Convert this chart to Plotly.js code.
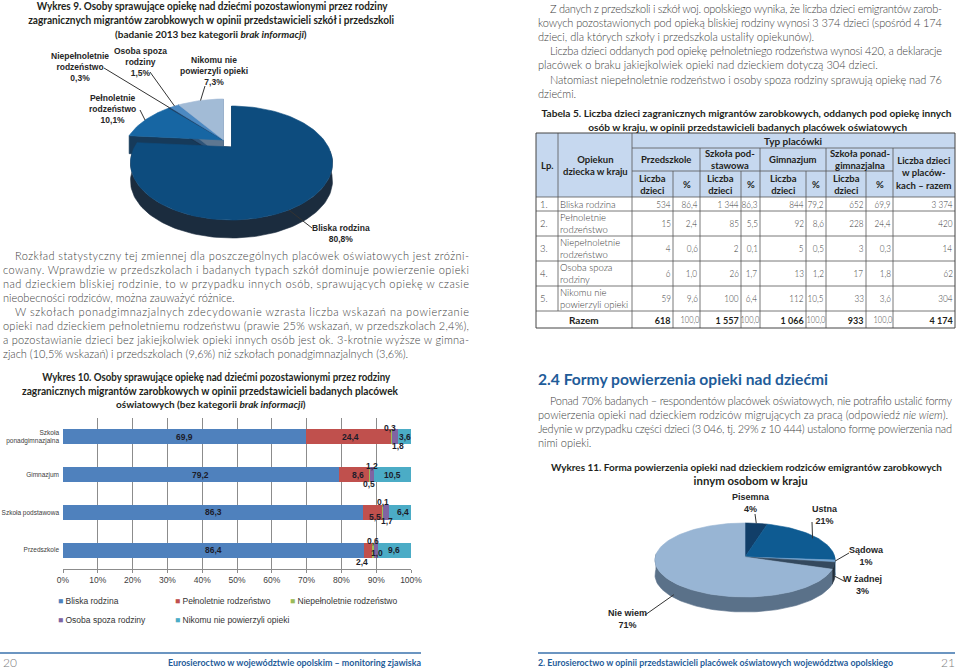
<!DOCTYPE html>
<html><head><meta charset="utf-8">
<script src="https://cdn.plot.ly/plotly-3.0.1.min.js"></script>
<style>html,body{margin:0;padding:0;background:#fff;}#chart{width:960px;height:669px;}</style>
</head><body><div id="chart"></div>
<script>
// ================= DATA =================
const pie9Labels = ['Bliska rodzina','Pełnoletnie<br>rodzeństwo','Niepełnoletnie<br>rodzeństwo','Osoba spoza<br>rodziny','Nikomu nie<br>powierzyli opieki'];
const pie9Values = [80.8, 10.1, 0.3, 1.5, 7.3];

const barCategories = ['Przedszkole','Szkoła podstawowa','Gimnazjum','Szkoła<br>ponadgimnazjalna'];
const barSeriesNames = ['Bliska rodzina','Pełnoletnie rodzeństwo','Niepełnoletnie rodzeństwo','Osoba spoza rodziny','Nikomu nie powierzyli opieki'];
const bliskaRodzina  = [86.4, 86.3, 79.2, 69.9];
const pelnoletnie    = [2.4, 5.5, 8.6, 24.4];
const niepelnoletnie = [0.6, 0.1, 0.5, 0.3];
const osobaSpoza     = [1.0, 1.7, 1.2, 1.8];
const nikomu         = [9.6, 6.4, 10.5, 3.6];
const xTicks = [0,10,20,30,40,50,60,70,80,90,100];

const tableLp = ['1.','2.','3.','4.','5.'];
const tableOpiekun = ['Bliska rodzina','Pełnoletnie<br>rodzeństwo','Niepełnoletnie<br>rodzeństwo','Osoba spoza<br>rodziny','Nikomu nie<br>powierzyli opieki'];
const przedszkoleLiczba = [534, 15, 4, 6, 59];
const przedszkoleProc   = [86.4, 2.4, 0.6, 1.0, 9.6];
const podstawowaLiczba  = [1344, 85, 2, 26, 100];
const podstawowaProc    = [86.3, 5.5, 0.1, 1.7, 6.4];
const gimnazjumLiczba   = [844, 92, 5, 13, 112];
const gimnazjumProc     = [79.2, 8.6, 0.5, 1.2, 10.5];
const ponadLiczba       = [652, 228, 3, 17, 33];
const ponadProc         = [69.9, 24.4, 0.3, 1.8, 3.6];
const razemLiczba       = [3374, 420, 14, 62, 304];
const sumaLiczba        = [618, 1557, 1066, 933, 4174];
const sumaProc          = [100.0, 100.0, 100.0, 100.0];

const pie11Labels = ['Pisemna','Ustna','Sądowa','W żadnej','Nie wiem'];
const pie11Values = [4, 21, 1, 3, 71];

// ================= STYLE =================
const BODY = 'Lato, "Open Sans", sans-serif';
const ARIAL = '"Liberation Sans", Arial, sans-serif';
const TXT = '#404040', DARK = '#231f20', BLUE = '#1f5c99';
const barColors = ['#4F81BD','#C0504D','#9BBB59','#8064A2','#4BACC6'];

const traces = [], shapes = [], anns = [], fits = {};
function T(text, x, y, o) {
  o = o || {};
  const xa = o.xanchor || 'left';
  const font = {family: o.family || BODY, size: o.size || 11, color: o.color || TXT};
  if (o.weight) font.weight = o.weight;
  const a = {text, x, y, xref: o.xref || 'x', yref: o.yref || 'y', showarrow: false,
    xanchor: xa, yanchor: 'middle', align: o.align || xa, borderpad: 0, borderwidth: 0,
    xshift: o.xshift || 0, yshift: o.yshift || 0, font};
  anns.push(a);
  if (o.w || o.scale) fits[anns.length - 1] = {w: o.w, scale: o.scale, adj: o.adj || 'spacing'};
}
function line(x0, y0, x1, y1, color, width) {
  shapes.push({type: 'line', xref: 'x', yref: 'y', x0, y0, x1, y1, line: {color: color || '#4d4d4d', width: width || 1}});
}
function poly(x, y, color) {
  return {type: 'scatter', mode: 'lines', x, y, fill: 'toself', fillcolor: color,
    line: {color, width: 0.6}, hoverinfo: 'skip', showlegend: false, xaxis: 'x', yaxis: 'y'};
}
const fmtInt = n => String(n).replace(/\B(?=(\d{3})+(?!\d))/g, ' ');
const fmtDec = v => v.toFixed(1).replace('.', ',');
const deg = Math.PI / 180;

// 3D-looking pie built from the values through the page axes
function pie3d(values, g) {
  const total = values.reduce((s, v) => s + v, 0);
  const step = 2 * deg, under = [], over = [], info = [];
  const samp = (lo, hi) => { const n = Math.max(2, Math.ceil((hi - lo) / step)); const r = []; for (let k = 0; k <= n; k++) r.push(lo + (hi - lo) * k / n); return r; };
  let acc = 0;
  values.forEach((v, i) => {
    const a0 = acc / total * 2 * Math.PI; acc += v; const a1 = acc / total * 2 * Math.PI;
    const d = g.explode ? g.explode[i] : [0, 0];
    const px = a => g.cx + d[0] + g.rx * Math.sin(a);
    const py = a => g.cy + d[1] - g.ry * Math.cos(a);
    const vx = g.cx + d[0], vy = g.cy - g.vOff + d[1];
    const arc = samp(a0, a1);
    over.push(poly([vx, ...arc.map(px), vx], [vy, ...arc.map(py), vy], g.face[i]));
    const lo = Math.max(a0, g.front[0] * deg), hi = Math.min(a1, g.front[1] * deg);
    if (hi > lo) {
      const s = samp(lo, hi), r = s.slice().reverse();
      under.push(poly([...s.map(px), ...r.map(px)], [...s.map(py), ...r.map(a => py(a) + g.depth)], g.side[i]));
    }
    if (g.walls) [a0, a1].forEach(a => under.push(poly([vx, px(a), px(a), vx], [vy, py(a), py(a) + g.depth, vy + g.depth], g.side[i])));
    info.push({mid: (a0 + a1) / 2, px, py, vx, vy});
  });
  traces.push(...under, ...over);
  return info;
}
const CAP = {xanchor: 'center', color: DARK, size: 10.5, adj: 'spacingAndGlyphs'};
const cap = (text, x, y, w, extra) => T('<b>' + text + '</b>', x, y, Object.assign({}, CAP, w ? {w} : {}, extra || {}));
const BT = {weight: 300};

// ================= LEFT PAGE =================
cap('Wykres 9. Osoby sprawujące opiekę nad dziećmi pozostawionymi przez rodziny', 212.5, 6, 351);
cap('zagranicznych migrantów zarobkowych w opinii przedstawicieli szkół i przedszkoli', 211, 20, 366);
cap('(badanie 2013 bez kategorii <i>brak informacji</i>)', 210.5, 33.5, null, {size: 10});

const p9 = pie3d(pie9Values, {cx: 231.5, cy: 163, rx: 101, ry: 57, vOff: 16, depth: 18, front: [78, 282], walls: true,
  explode: [[0, 0], [-8, -7], [-8, -7], [-8, -7], [-8, -7]],
  face: ['#0d4c7e', '#1766a3', '#1f3f63', '#4c89c2', '#a2bbd6'],
  side: ['#1b2c3e', '#163a5a', '#1b3049', '#2d5378', '#5e7791']});
const p9Style = [
  {c: [341, 233], e: [312, 228]},
  {c: [112, 109], e: [140, 110]},
  {c: [80, 67], e: [104, 68]},
  {c: [140, 62], e: [150, 72]},
  {c: [214, 71], e: [205, 86]}];
pie9Values.forEach((v, i) => {
  const s = p9Style[i], q = p9[i];
  T('<b>' + pie9Labels[i] + '<br>' + fmtDec(v) + '%</b>', s.c[0], s.c[1], {xanchor: 'center', family: ARIAL, size: 8.5, color: '#262626'});
  line(s.e[0], s.e[1], q.px(q.mid), q.py(q.mid), '#333', 1);
});

// Paragraph
const LX = 3, LIND = 15, LR = 469;
const leftPara = [
  ['Rozkład statystyczny tej zmiennej dla poszczególnych placówek oświatowych jest zróżni-', true, true],
  ['cowany. Wprawdzie w przedszkolach i badanych typach szkół dominuje powierzenie opieki', false, true],
  ['nad dzieckiem bliskiej rodzinie, to w przypadku innych osób, sprawujących opiekę w czasie', false, true],
  ['nieobecności rodziców, można zauważyć różnice.', false, false],
  ['W szkołach ponadgimnazjalnych zdecydowanie wzrasta liczba wskazań na powierzanie', true, true],
  ['opieki nad dzieckiem pełnoletniemu rodzeństwu (prawie 25% wskazań, w przedszkolach 2,4%),', false, true],
  ['a pozostawianie dzieci bez jakiejkolwiek opieki innych osób jest ok. 3-krotnie wyższe w gimna-', false, true],
  ['zjach (10,5% wskazań) i przedszkolach (9,6%) niż szkołach ponadgimnazjalnych (3,6%).', false, false]];
leftPara.forEach((l, i) => {
  const x0 = l[1] ? LIND : LX;
  T(l[0], x0, 255 + i * 14, Object.assign({}, BT, l[2] ? {w: LR - x0} : {}));
});

// Wykres 10 caption
cap('Wykres 10. Osoby sprawujące opiekę nad dziećmi pozostawionymi przez rodziny', 216, 377, 348);
cap('zagranicznych migrantów zarobkowych w opinii przedstawicieli badanych placówek', 210, 390.5, 376);
cap('oświatowych (bez kategorii <i>brak informacji</i>)', 211, 404, null, {size: 10});

// Stacked bars
const barSeries = [bliskaRodzina, pelnoletnie, niepelnoletnie, osobaSpoza, nikomu];
barSeries.forEach((vals, i) => traces.push({type: 'bar', orientation: 'h', x: vals, y: barCategories,
  name: barSeriesNames[i], marker: {color: barColors[i], line: {width: 0}}, xaxis: 'x2', yaxis: 'y2',
  showlegend: false, hoverinfo: 'skip'}));
const labelShift = [
  [[0, 0], [-6, -12], [0, 9], [1, -3], [0, 0]],
  [[0, 0], [2, -5], [0, 10], [1, -9], [3, 0]],
  [[0, 0], [4, 0], [0, -9], [0, 9], [0, 0]],
  [[0, 0], [2, 0], [-2, 9], [3, -9], [0, 0]]];
barCategories.forEach((cat, j) => {
  let s = 0;
  barSeries.forEach((vals, i) => {
    const v = vals[j];
    T('<b>' + fmtDec(v) + '</b>', s + v / 2, cat, {xref: 'x2', yref: 'y2', xanchor: 'center', family: ARIAL, size: 8.5,
      color: '#1c1c2a', xshift: labelShift[j][i][0], yshift: labelShift[j][i][1]});
    s += v;
  });
});
// Legend
const legPos = [[58, 601], [175, 601], [290, 601], [58, 620], [175, 620]];
barSeriesNames.forEach((n, i) => {
  T('<span style="color:' + barColors[i] + '">■</span> ' + n, legPos[i][0], legPos[i][1], {family: ARIAL, size: 8.5, color: '#333'});
});

// Footer left
line(0, 653, 421, 653, '#3a72ad', 1.5);
T('20', 3, 662, {size: 12, color: '#7a7a7a', weight: 300});
T('<b>Eurosieroctwo w województwie opolskim – monitoring zjawiska</b>', 421, 662, {xanchor: 'right', size: 10, color: BLUE, w: 253, adj: 'spacingAndGlyphs'});

// ================= RIGHT PAGE =================
const RX = 538, RIND = 550, RR = 942;
const rightPara = [
  ['Z danych z przedszkoli i szkół woj. opolskiego wynika, że liczba dzieci emigrantów zarob-', true, true],
  ['kowych pozostawionych pod opieką bliskiej rodziny wynosi 3 374 dzieci (spośród 4 174', false, true],
  ['dzieci, dla których szkoły i przedszkola ustaliły opiekunów).', false, false],
  ['Liczba dzieci oddanych pod opiekę pełnoletniego rodzeństwa wynosi 420, a deklaracje', true, true],
  ['placówek o braku jakiejkolwiek opieki nad dzieckiem dotyczą 304 dzieci.', false, false],
  ['Natomiast niepełnoletnie rodzeństwo i osoby spoza rodziny sprawują opiekę nad 76', true, true],
  ['dziećmi.', false, false]];
rightPara.forEach((l, i) => {
  const x0 = l[1] ? RIND : RX;
  T(l[0], x0, 8 + i * 14.2, Object.assign({}, BT, l[2] ? {w: RR - x0} : {}));
});

// Tabela 5 caption
cap('Tabela 5. Liczba dzieci zagranicznych migrantów zarobkowych, oddanych pod opiekę innych', 747, 113, 410, {size: 10});
cap('osób w kraju, w opinii przedstawicieli badanych placówek oświatowych', 747.5, 127, 319, {size: 10});

// Table grid
const cols = [536, 558, 632, 673, 700, 741, 760, 806, 826, 866, 893, 955];
const rows = [133, 148, 171, 197, 211, 236, 261, 286, 311, 328];
shapes.push({type: 'rect', xref: 'x', yref: 'y', x0: cols[0], x1: cols[11], y0: rows[0], y1: rows[3], fillcolor: '#c6d8ef', line: {width: 0}, layer: 'below'});
const GC = '#555';
line(cols[2], rows[1], cols[11], rows[1], GC, 0.8);
line(cols[2], rows[2], cols[10], rows[2], GC, 0.8);
for (let r = 3; r <= 8; r++) line(cols[0], rows[r], cols[11], rows[r], GC, 0.8);
line(cols[1], rows[0], cols[1], rows[8], GC, 0.8);
line(cols[2], rows[0], cols[2], rows[9], GC, 0.8);
[4, 6, 8, 10].forEach(c => line(cols[c], rows[1], cols[c], rows[9], GC, 0.8));
[3, 5, 7, 9].forEach(c => line(cols[c], rows[2], cols[c], rows[9], GC, 0.8));
shapes.push({type: 'rect', xref: 'x', yref: 'y', x0: cols[0], x1: cols[11], y0: rows[0], y1: rows[9], line: {color: '#444', width: 1}});

const HB = {xanchor: 'center', color: DARK, size: 9.5};
const mid = (a, b) => (a + b) / 2;
T('<b>Typ placówki</b>', mid(cols[2], cols[11]), mid(rows[0], rows[1]), Object.assign({}, HB, {size: 10}));
T('<b>Lp.</b>', mid(cols[0], cols[1]), mid(rows[0], rows[3]), HB);
T('<b>Opiekun<br>dziecka w kraju</b>', mid(cols[1], cols[2]), mid(rows[0], rows[3]), HB);
const groupNames = ['Przedszkole', 'Szkoła pod-<br>stawowa', 'Gimnazjum', 'Szkoła ponad-<br>gimnazjalna'];
groupNames.forEach((g, k) => {
  T('<b>' + g + '</b>', mid(cols[2 + 2 * k], cols[4 + 2 * k]), mid(rows[1], rows[2]), HB);
  T('<b>Liczba<br>dzieci</b>', mid(cols[2 + 2 * k], cols[3 + 2 * k]), mid(rows[2], rows[3]), HB);
  T('<b>%</b>', mid(cols[3 + 2 * k], cols[4 + 2 * k]), mid(rows[2], rows[3]), HB);
});
T('<b>Liczba dzieci<br>w placów-<br>kach – razem</b>', mid(cols[10], cols[11]), mid(rows[1], rows[3]), HB);

const numCols = [przedszkoleLiczba, przedszkoleProc, podstawowaLiczba, podstawowaProc, gimnazjumLiczba, gimnazjumProc, ponadLiczba, ponadProc, razemLiczba];
const TB = {size: 9.5, color: '#3c3c3c', weight: 300};
tableLp.forEach((lp, r) => {
  const yc = mid(rows[3 + r], rows[4 + r]);
  T(lp, cols[0] + 4, yc, TB);
  T(tableOpiekun[r], cols[1] + 2, yc, TB);
  numCols.forEach((arr, c) => {
    const v = arr[r];
    T(c % 2 === 1 && c < 8 ? fmtDec(v) : fmtInt(v), cols[3 + c] - 2, yc, Object.assign({xanchor: 'right', scale: 0.86}, TB));
  });
});
const yR = mid(rows[8], rows[9]);
T('<b>Razem</b>', mid(cols[0], cols[2]), yR, {xanchor: 'center', size: 10, color: DARK});
sumaLiczba.forEach((v, k) => T('<b>' + fmtInt(v) + '</b>', cols[3 + 2 * k] - 2, yR, {xanchor: 'right', size: 10, color: DARK, scale: 0.9}));
sumaProc.forEach((v, k) => T(fmtDec(v), cols[4 + 2 * k] - 1.5, yR, Object.assign({}, TB, {xanchor: 'right', size: 8.8, scale: 0.84})));

// Section heading + paragraph
T('<b>2.4 Formy powierzenia opieki nad dziećmi</b>', 538, 379, {size: 15.5, color: BLUE, w: 290, adj: 'spacingAndGlyphs'});
const RR2 = 952;
const lowerPara = [
  ['Ponad 70% badanych – respondentów placówek oświatowych, nie potrafiło ustalić formy', true, true],
  ['powierzenia opieki nad dzieckiem rodziców migrujących za pracą (odpowiedź <i>nie wiem</i>).', false, false],
  ['Jedynie w przypadku części dzieci (3 046, tj. 29% z 10 444) ustalono formę powierzenia nad', false, true],
  ['nimi opieki.', false, false]];
lowerPara.forEach((l, i) => {
  const x0 = l[1] ? RIND : RX;
  T(l[0], x0, 400 + i * 14, Object.assign({}, BT, l[2] ? {w: RR2 - x0} : {}));
});

// Wykres 11 caption
cap('Wykres 11. Forma powierzenia opieki nad dzieckiem rodziców emigrantów zarobkowych', 746, 467, 391, {size: 10});
cap('innym osobom w kraju', 750, 481, 114);

const p11 = pie3d(pie11Values, {cx: 745, cy: 560, rx: 90, ry: 37, vOff: 3, depth: 15, front: [80, 280], walls: false,
  face: ['#113e68', '#0e5b92', '#74a3cf', '#34495e', '#98b5d4'],
  side: ['#0b2a46', '#0a3d63', '#4f7aa2', '#222f3c', '#5a7189']});
const p11Style = [
  {c: [751, 503], e: [755, 514], f: 1, drop: 0},
  {c: [825, 515], e: [812, 522], f: 0.95, drop: 0},
  {c: [866, 556], e: [849, 553], f: 1, drop: 0},
  {c: [862, 585], e: [844, 581], f: 1, drop: 10},
  {c: [627, 619], e: [645, 615], f: 1, drop: 12}];
pie11Values.forEach((v, i) => {
  const s = p11Style[i], q = p11[i];
  T('<b>' + pie11Labels[i] + '<br>' + v + '%</b>', s.c[0], s.c[1], {xanchor: 'center', family: ARIAL, size: 9, color: '#262626'});
  const tx = q.vx + s.f * (q.px(q.mid) - q.vx), ty = q.vy + s.f * (q.py(q.mid) - q.vy) + s.drop;
  line(s.e[0], s.e[1], tx, ty, '#333', 1);
});

// Footer right
line(538, 653, 955, 653, '#3a72ad', 1.5);
T('<b>2. Eurosieroctwo w opinii przedstawicieli placówek oświatowych województwa opolskiego</b>', 538, 662, {size: 10, color: BLUE, w: 355, adj: 'spacingAndGlyphs'});
T('21', 955, 662, {xanchor: 'right', size: 12, color: '#7a7a7a', weight: 300});

// ================= LAYOUT =================
const layout = {
  width: 960, height: 669, margin: {l: 0, r: 0, t: 0, b: 0}, paper_bgcolor: '#fff', plot_bgcolor: 'rgba(0,0,0,0)',
  showlegend: false, font: {family: BODY},
  xaxis: {domain: [0, 1], range: [0, 960], visible: false, fixedrange: true},
  yaxis: {domain: [0, 1], range: [669, 0], visible: false, fixedrange: true},
  xaxis2: {domain: [63 / 960, 411 / 960], anchor: 'y2', range: [0, 100], tickvals: xTicks, ticktext: xTicks.map(t => t + '%'),
    showgrid: true, gridcolor: '#8c8c8c', gridwidth: 1, zeroline: false, showline: true, linecolor: '#8c8c8c',
    ticks: 'outside', ticklen: 3, tickcolor: '#8c8c8c', tickfont: {family: ARIAL, size: 8.5, color: '#404040'}, fixedrange: true},
  yaxis2: {domain: [(669 - 569) / 669, (669 - 418) / 669], anchor: 'x2', type: 'category', categoryarray: barCategories,
    showgrid: false, zeroline: false, showline: false, ticks: '', ticklabelstandoff: 3,
    tickfont: {family: ARIAL, size: 6.5, color: '#404040'}, fixedrange: true},
  barmode: 'stack', bargap: 0.6,
  shapes, annotations: anns
};
Plotly.newPlot('chart', traces, layout, {staticPlot: true, displayModeBar: false}).then(gd => {
  gd.querySelectorAll('g.annotation').forEach(g => {
    const f = fits[+g.getAttribute('data-index')];
    if (!f) return;
    const t = g.querySelector('text.annotation-text');
    if (!t) return;
    const w = f.w || t.getComputedTextLength() * f.scale;
    t.setAttribute('textLength', w);
    t.setAttribute('lengthAdjust', f.scale ? 'spacingAndGlyphs' : f.adj);
  });
});
</script></body></html>
